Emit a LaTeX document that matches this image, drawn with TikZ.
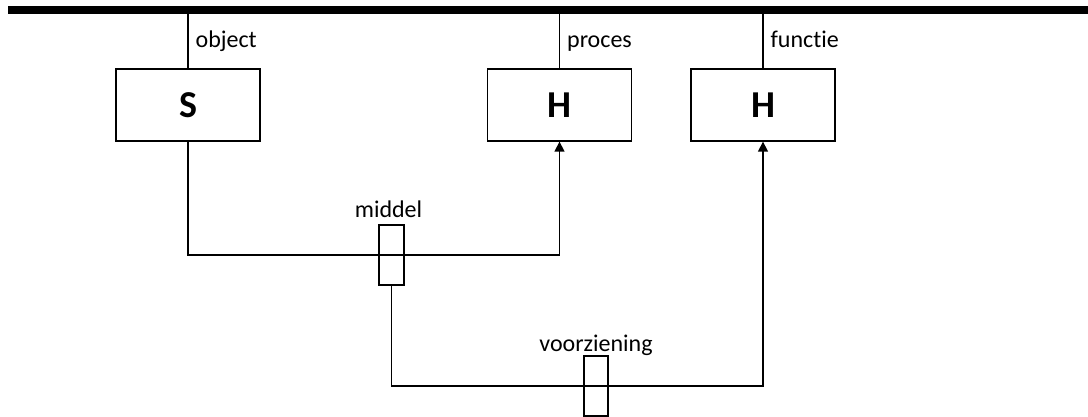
\documentclass[tikz,border=0pt]{standalone}
\usepackage{fontspec}
\setmainfont{Carlito}[Ligatures=NoCommon]
\usetikzlibrary{arrows.meta}
\begin{document}
\begin{tikzpicture}[x=1pt,y=-1pt,
  line width=1.3pt,
  unit/.style={draw,rectangle,inner sep=0pt,minimum width=144pt,minimum height=72pt,
    font=\fontsize{38}{44}\selectfont\bfseries},
  slot/.style={draw,rectangle,inner sep=0pt,minimum width=24pt,minimum height=60pt},
  lbl/.style={inner sep=0pt,font=\fontsize{24}{28}\selectfont},
  flow/.style={-{Triangle[width=10pt,length=10pt]}}]
\useasboundingbox (0,0) rectangle (1088,417);

% thick bar along the top
\coordinate (barL) at (8,10);
\coordinate (barR) at (1088,10);
\draw[line width=7.5pt] (barL) -- (barR);

% the three units
\node[unit] (S)  at (188,105) {S};
\node[unit] (H1) at (559.5,105) {H};
\node[unit] (H2) at (763,105) {H};

% links to the bar with their labels
\draw (S.north)  -- (S.north |- barR)  node[lbl,pos=0.5,anchor=base west,xshift=7pt,yshift=-8.5pt] (lobj) {object};
\draw (H1.north) -- (H1.north |- barR) node[lbl,pos=0.5,anchor=base west,xshift=7pt,yshift=-8.5pt] (lproc) {proces};
\draw (H2.north) -- (H2.north |- barR) node[lbl,pos=0.5,anchor=base west,xshift=7pt,yshift=-8.5pt] (lfun) {functie};

% slots
\node[slot,minimum width=25pt] (m) at (391.5,255) {};
\node[slot] (v) at (596,386) {};
\node[lbl,anchor=base] (lm) at ([xshift=-3pt,yshift=7pt]m.north) {middel};
\node[lbl,anchor=base] (lv) at ([yshift=4pt]v.north) {voorziening};

% connectors
\coordinate (c1) at (S.south |- m.center);
\coordinate (c2) at (H1.south |- m.center);
\draw[flow] (S.south) -- (c1) -- (c2) -- (H1.south);
\coordinate (c3) at (m.south |- v.center);
\coordinate (c4) at (H2.south |- v.center);
\draw[flow] (m.south) -- (c3) -- (c4) -- (H2.south);
\end{tikzpicture}
\end{document}
